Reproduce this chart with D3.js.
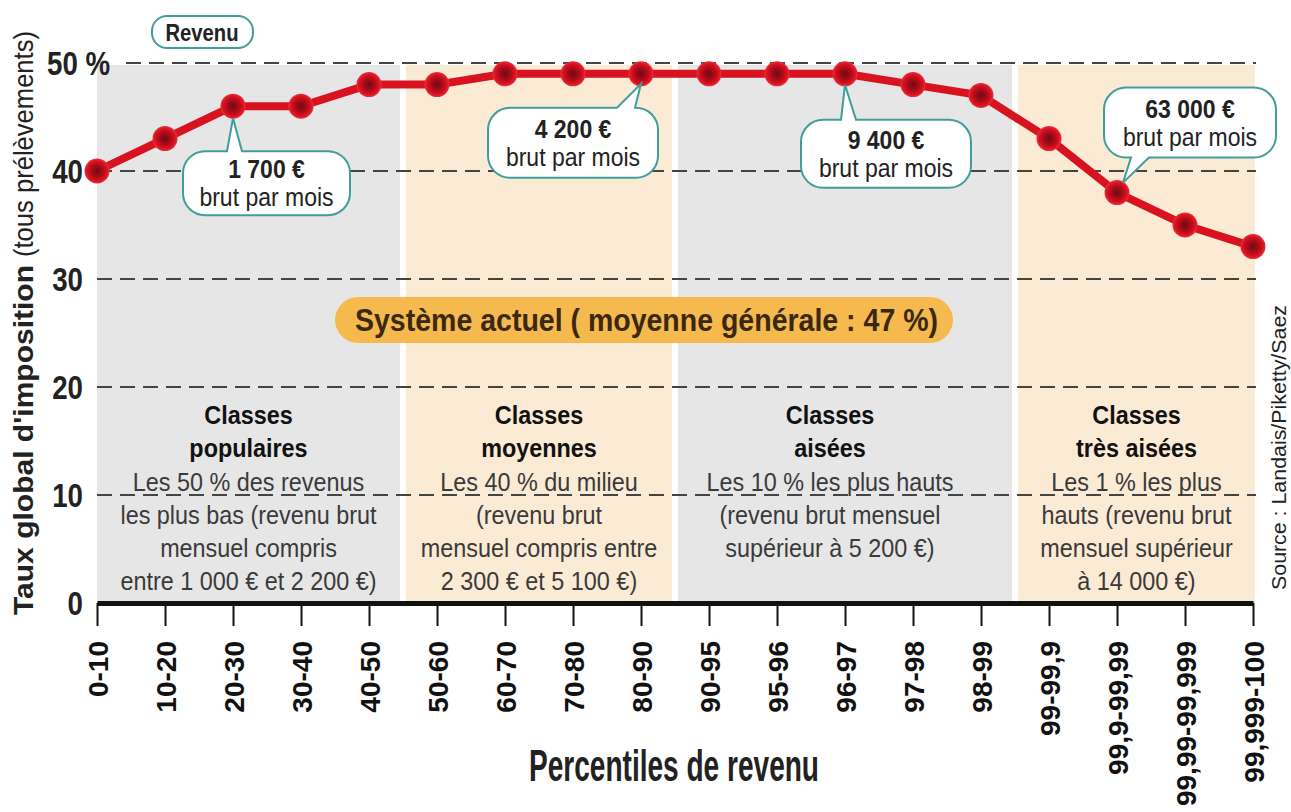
<!DOCTYPE html>
<html>
<head>
  <meta charset="UTF-8">
  <title>Taux global d'imposition par percentile de revenu</title>
  <script src="https://d3js.org/d3.v7.min.js"></script>
  <style>
    body { margin: 0; background: #fff; }
    svg { display: block; font-family: "Liberation Sans", Arial, sans-serif; }
    .grid line { stroke: #444; stroke-width: 2px; stroke-dasharray: 15 8; }
    .xaxis .tick line { stroke: #111; stroke-width: 2px; }
    .xaxis .domain { stroke: #111; stroke-width: 5px; }
    .xaxis text { font-size: 28px; font-weight: bold; fill: #111; font-family: "Liberation Sans", Arial, sans-serif; }
    .yaxis text { font-size: 33px; font-weight: bold; fill: #222; font-family: "Liberation Sans", Arial, sans-serif; }
    .bubble path { fill: #fff; stroke: #3f9e9b; stroke-width: 2px; }
    .bubble text { font-size: 25px; fill: #222; text-anchor: middle; }
    .classe text { font-size: 26px; fill: #3a3a3a; text-anchor: middle; }
    .classe .titre { font-weight: bold; fill: #111; }
  </style>
</head>
<body>
<svg id="chart" width="1291" height="812"></svg>
<script>
  // percentiles de revenu (axe horizontal)
  const categories = ["0-10", "10-20", "20-30", "30-40", "40-50", "50-60", "60-70", "70-80", "80-90",
    "90-95", "95-96", "96-97", "97-98", "98-99", "99-99,9", "99,9-99,99", "99,99-99,999", "99,999-100"];
  // taux global d'imposition (%)
  const taux = [40, 43, 46, 46, 48, 48, 49, 49, 49, 49, 49, 49, 48, 47, 43, 38, 35, 33];
  const yTicks = [0, 10, 20, 30, 40, 50];

  // classes de revenu
  const classFirst = ["0-10", "50-60", "90-95", "99-99,9"];
  const classLast = ["40-50", "80-90", "98-99", "99,999-100"];
  const classTitles = [["Classes", "populaires"], ["Classes", "moyennes"], ["Classes", "aisées"], ["Classes", "très aisées"]];
  const classDescs = [
    ["Les 50 % des revenus", "les plus bas (revenu brut", "mensuel compris", "entre 1 000 € et 2 200 €)"],
    ["Les 40 % du milieu", "(revenu brut", "mensuel compris entre", "2 300 € et 5 100 €)"],
    ["Les 10 % les plus hauts", "(revenu brut mensuel", "supérieur à 5 200 €)"],
    ["Les 1 % les plus", "hauts (revenu brut", "mensuel supérieur", "à 14 000 €)"]
  ];

  // bulles de revenu
  const calloutCats = ["20-30", "80-90", "96-97", "99,9-99,99"];
  const calloutAmounts = ["1 700 €", "4 200 €", "9 400 €", "63 000 €"];

  const svg = d3.select("#chart");
  const x = d3.scalePoint().domain(categories).range([97, 1253]);
  const y = d3.scaleLinear().domain([0, 50]).range([603, 63]);
  const step = x.step();

  // bandes de fond
  const bands = classFirst.map((c, i) => {
    const left = i === 0 ? x(c) : x(c) - step / 2 + 3;
    const last = classLast[i];
    const right = i === classLast.length - 1 ? x(last) + 2 : x(last) + step / 2 - 3;
    return {left, right, i};
  });
  svg.append("g").selectAll("rect").data(bands).join("rect")
    .attr("x", d => d.left).attr("y", y(50) + 2)
    .attr("width", d => d.right - d.left).attr("height", y(0) - y(50) - 2)
    .attr("fill", d => d.i % 2 === 0 ? "#e6e6e6" : "#fcebd4");

  // lignes pointillées
  svg.append("g").attr("class", "grid").selectAll("line").data(yTicks.filter(d => d > 0)).join("line")
    .attr("x1", d => d === 50 ? 126 : 97).attr("x2", 1256)
    .attr("y1", d => y(d)).attr("y2", d => y(d));

  // textes des classes
  const textShift = [0, 0, -15, 0];
  const classe = svg.append("g").attr("class", "classe").selectAll("g").data(bands).join("g")
    .attr("transform", d => `translate(${(d.left + d.right) / 2 + textShift[d.i]},0) scale(0.9,1)`);
  classe.each(function(d) {
    const g = d3.select(this);
    const lines = classTitles[d.i].map(t => ({t, bold: true})).concat(classDescs[d.i].map(t => ({t, bold: false})));
    lines.forEach((l, k) => {
      g.append("text").attr("class", l.bold ? "titre" : null)
        .attr("y", 424 + k * 33.3).text(l.t);
    });
  });

  // pilule "Système actuel"
  const pill = svg.append("g");
  pill.append("rect").attr("x", 335).attr("y", 297).attr("width", 618).attr("height", 46)
    .attr("rx", 23).attr("fill", "#f5b94d");
  pill.append("text").attr("x", 355).attr("y", 331)
    .attr("font-size", 32).attr("font-weight", "bold").attr("fill", "#3a2812")
    .attr("textLength", 583).attr("lengthAdjust", "spacingAndGlyphs")
    .text("Système actuel ( moyenne générale : 47 %)");

  // axe des x
  const xAxis = svg.append("g").attr("class", "xaxis")
    .attr("transform", `translate(0,${y(0)})`)
    .call(d3.axisBottom(x).tickSize(23).tickSizeOuter(0).tickPadding(0));
  xAxis.selectAll("text")
    .attr("transform", "rotate(-90)")
    .attr("x", -38).attr("y", 0).attr("dy", "0.36em")
    .attr("text-anchor", "end");

  // axe des y (étiquettes seules)
  const yAxis = svg.append("g").attr("class", "yaxis")
    .attr("transform", "translate(83,0)")
    .call(d3.axisLeft(y).tickValues(yTicks).tickSize(0).tickPadding(0).tickFormat(d => d));
  yAxis.select(".domain").remove();
  yAxis.selectAll(".tick text").attr("dy", "0.36em").attr("transform", "scale(0.84,1)");
  yAxis.selectAll(".tick").filter(d => d === 50).select("text")
    .attr("text-anchor", "start").attr("x", -36 / 0.84).text("50 %");

  // courbe
  const defs = svg.append("defs");
  const grad = defs.append("radialGradient").attr("id", "pt");
  grad.append("stop").attr("offset", "0%").attr("stop-color", "#6e0a12");
  grad.append("stop").attr("offset", "45%").attr("stop-color", "#a80c18");
  grad.append("stop").attr("offset", "80%").attr("stop-color", "#dc1020");
  grad.append("stop").attr("offset", "100%").attr("stop-color", "#e8323c");

  const line = d3.line().x((d, i) => x(categories[i])).y(d => y(d));
  svg.append("path").datum(taux).attr("d", line)
    .attr("fill", "none").attr("stroke", "#d9121f").attr("stroke-width", 8).attr("stroke-linejoin", "round");
  svg.append("g").selectAll("circle").data(taux).join("circle")
    .attr("cx", (d, i) => x(categories[i])).attr("cy", d => y(d)).attr("r", 12.5)
    .attr("fill", "url(#pt)");

  // bulles
  const bubbleLayout = [
    {bx: -50, by: 45, w: 167, h: 64, side: "top", ta: -6, tb: 9, tip: [0, 12]},
    {bx: -153, by: 34, w: 170, h: 70, side: "top", ta: -24, tb: -6, tip: [0, 10]},
    {bx: -44, by: 46, w: 170, h: 68, side: "top", ta: -4, tb: 11, tip: [0, 11]},
    {bx: -13, by: -105, w: 172, h: 70, side: "bottom", ta: 14, tb: 32, tip: [6, -10]}
  ];
  function bubblePath(x0, y0, w, h, r, L) {
    const x1 = x0 + w, y1 = y0 + h;
    let p = `M${x0 + r},${y0}`;
    if (L.side === "top") p += `L${L.ta},${y0}L${L.tip[0]},${L.tip[1]}L${L.tb},${y0}`;
    p += `L${x1 - r},${y0}A${r},${r} 0 0 1 ${x1},${y0 + r}L${x1},${y1 - r}A${r},${r} 0 0 1 ${x1 - r},${y1}`;
    if (L.side === "bottom") p += `L${L.tb},${y1}L${L.tip[0]},${L.tip[1]}L${L.ta},${y1}`;
    p += `L${x0 + r},${y1}A${r},${r} 0 0 1 ${x0},${y1 - r}L${x0},${y0 + r}A${r},${r} 0 0 1 ${x0 + r},${y0}Z`;
    return p;
  }
  calloutCats.forEach((c, i) => {
    const L = bubbleLayout[i];
    const px = x(c), py = y(taux[categories.indexOf(c)]);
    const g = svg.append("g").attr("class", "bubble").attr("transform", `translate(${px},${py})`);
    g.append("path").attr("d", bubblePath(L.bx, L.by, L.w, L.h, 22, L));
    const t = g.append("g").attr("transform", `translate(${L.bx + L.w / 2},${L.by + L.h / 2}) scale(0.92,1)`);
    t.append("text").attr("y", -5).attr("font-weight", "bold").text(calloutAmounts[i]);
    t.append("text").attr("y", 23).text("brut par mois");
  });

  // étiquette "Revenu"
  svg.append("rect").attr("x", 152).attr("y", 16).attr("width", 101).attr("height", 32).attr("rx", 15)
    .attr("fill", "#fff").attr("stroke", "#3f9e9b").attr("stroke-width", 2);
  svg.append("text").attr("transform", "translate(202,41) scale(0.88,1)").attr("text-anchor", "middle")
    .attr("font-size", 23).attr("font-weight", "bold").attr("fill", "#222").text("Revenu");

  // titres d'axes
  svg.append("text").attr("transform", "translate(33,615) rotate(-90)")
    .attr("font-size", 28).attr("font-weight", "bold").attr("fill", "#222")
    .attr("textLength", 350).attr("lengthAdjust", "spacingAndGlyphs")
    .text("Taux global d'imposition");
  svg.append("text").attr("transform", "translate(33,257) rotate(-90)")
    .attr("font-size", 28).attr("fill", "#222")
    .attr("textLength", 226).attr("lengthAdjust", "spacingAndGlyphs")
    .text("(tous prélèvements)");

  svg.append("text").attr("x", 529).attr("y", 781)
    .attr("font-size", 44).attr("font-weight", "bold").attr("fill", "#222")
    .attr("textLength", 290).attr("lengthAdjust", "spacingAndGlyphs")
    .text("Percentiles de revenu");

  svg.append("text").attr("transform", "translate(1286,590) rotate(-90)")
    .attr("font-size", 20).attr("fill", "#222")
    .attr("textLength", 285).attr("lengthAdjust", "spacingAndGlyphs")
    .text("Source : Landais/Piketty/Saez");
</script>
</body>
</html>
